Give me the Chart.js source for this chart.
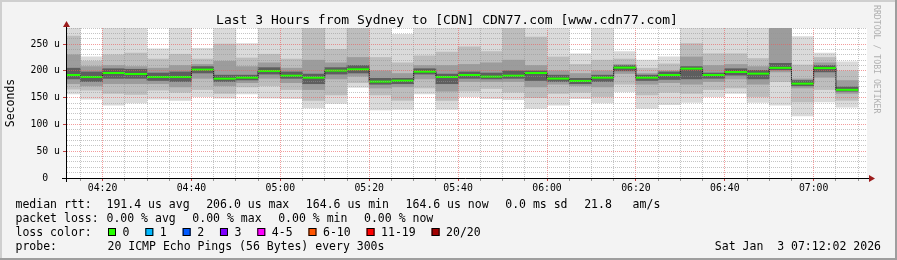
<!DOCTYPE html>
<html>
<head>
<meta charset="utf-8">
<title>Smokeping CDN77</title>
<script src="https://cdn.jsdelivr.net/npm/chart.js@4.4.1/dist/chart.umd.min.js"></script>
<style>
  html, body { margin: 0; padding: 0; background: #f3f3f3; }
  canvas { display: block; }
</style>
</head>
<body>
<canvas id="grafico1" width="897" height="260"></canvas>
<script>
// fim de cada intervalo de 5 min (carimbo do RRD)
const tempos = ['04:15', '04:20', '04:25', '04:30', '04:35', '04:40', '04:45', '04:50', '04:55',
                '05:00', '05:05', '05:10', '05:15', '05:20', '05:25', '05:30', '05:35', '05:40',
                '05:45', '05:50', '05:55', '06:00', '06:05', '06:10', '06:15', '06:20', '06:25',
                '06:30', '06:35', '06:40', '06:45', '06:50', '06:55', '07:00', '07:05', '07:10'];

// rtt em microssegundos (fumaca: min .. max)
const rttMin = [157, 147, 136, 140, 147, 145, 152, 149, 157, 149, 148, 131, 139, 169, 127, 128, 157, 128,
                152, 148, 146, 130, 136, 148, 140, 161, 130, 137, 141, 152, 158, 141, 136, 116, 142, 132];
const rttP10 = [166, 164, 158, 156, 164, 160, 165, 158, 170, 172, 165, 145, 155, 178, 155, 145, 168, 145,
                162, 167, 160, 150, 158, 160, 152, 175, 155, 160, 158, 165, 168, 152, 180, 142, 165, 145];
const rttP25 = [176, 172, 176, 176, 176, 170, 186, 172, 178, 186, 178, 165, 185, 190, 168, 170, 185, 162,
                180, 180, 180, 170, 175, 172, 170, 195, 175, 178, 175, 180, 185, 175, 198, 168, 188, 158];
const rttP40 = [185, 180, 186, 186, 182, 180, 196, 180, 183, 194, 186, 176, 194, 196, 175, 176, 194, 176,
                186, 185, 186, 182, 180, 176, 180, 200, 182, 184, 185, 186, 192, 185, 202, 172, 198, 162];
const rttMediana = [192.3, 188.6, 196.0, 194.2, 188.6, 188.6, 202.3, 185.4, 187.3, 199.8, 191.0, 187.3,
                    200.4, 202.9, 179.9, 181.7, 198.5, 188.6, 192.3, 189.2, 191.0, 196.0, 185.5, 181.1,
                    187.3, 206.0, 187.3, 192.3, 204.1, 192.3, 197.9, 194.8, 205.6, 176.1, 205.2, 164.6];
const rttP60 = [205, 198, 204, 203, 196, 198, 208, 192, 192, 206, 198, 194, 206, 210, 186, 186, 204, 194,
                198, 196, 200, 200, 192, 186, 192, 210, 192, 198, 208, 196, 204, 201, 214, 182, 210, 170];
const rttP75 = [230, 208, 210, 208, 205, 210, 212, 218, 208, 215, 205, 220, 215, 225, 200, 195, 210, 210,
                212, 215, 220, 210, 200, 195, 200, 212, 195, 200, 226, 210, 212, 208, 285, 185, 215, 182];
const rttP90 = [265, 218, 230, 233, 222, 231, 222, 250, 224, 231, 222, 285, 240, 290, 225, 215, 228, 235,
                245, 236, 290, 263, 226, 212, 220, 222, 205, 213, 251, 232, 232, 223, 290, 211, 225, 200];
const rttMax = [290, 226, 290, 290, 241, 290, 242, 290, 251, 290, 290, 290, 290, 300, 290, 268, 290, 290,
                290, 290, 300, 290, 290, 232, 290, 236, 220, 226, 290, 290, 290, 290, 300, 264, 233, 217];

const rotulosX = ['04:20', '04:40', '05:00', '05:20', '05:40', '06:00', '06:20', '06:40', '07:00'];
const rotulosY = ['0  ', '50 u', '100 u', '150 u', '200 u', '250 u'];
const inicioEixo = '04:12';
const fimEixo = '07:12';

const titulo = 'Last 3 Hours from Sydney to [CDN] CDN77.com [www.cdn77.com]';
const linhaMediana = ['191.4 us avg', '206.0 us max', '164.6 us min', '164.6 us now', '0.0 ms sd', '21.8   am/s'];
const linhaPerda = ['0.00 % avg', '0.00 % max', '0.00 % min', '0.00 % now'];
const nomesPerda = ['0', '1', '2', '3', '4-5', '6-10', '11-19', '20/20'];
const coresPerda = ['#26ff00', '#00b8ff', '#0059ff', '#7e00ff', '#ff00ff', '#ff5500', '#ff0000', '#a10000'];
const sonda = '20 ICMP Echo Pings (56 Bytes) every 300s';
const dataHora = 'Sat Jan  3 07:12:02 2026';

function minutos(hhmm) {
    const p = hhmm.split(':');
    return Number(p[0]) * 60 + Number(p[1]);
}

const centros = tempos.map(t => minutos(t) - 2.5);
const MONO = '"DejaVu Sans Mono", monospace';

function faixa(lo, hi, cor, ordem) {
    return {
        type: 'bar',
        data: centros.map((x, i) => ({ x: x, y: [lo[i], hi[i]] })),
        backgroundColor: cor,
        borderWidth: 0,
        barPercentage: 1,
        categoryPercentage: 1,
        grouped: false,
        clip: 0,
        order: ordem
    };
}

const moldura = {
    id: 'moldura',
    beforeDraw(chart) {
        const c = chart.ctx, a = chart.chartArea, W = chart.width, H = chart.height;
        c.save();
        c.fillStyle = '#f3f3f3';
        c.fillRect(0, 0, W, H);
        c.fillStyle = '#cfcfcf';
        c.fillRect(0, 0, W, 2);
        c.fillRect(0, 0, 2, H);
        c.fillStyle = '#9e9e9e';
        c.fillRect(0, H - 2, W, 2);
        c.fillRect(W - 2, 0, 2, H);
        c.fillStyle = '#ffffff';
        c.fillRect(a.left, a.top, a.right - a.left, a.bottom - a.top);
        c.restore();
    },
    afterDraw(chart) {
        const c = chart.ctx, a = chart.chartArea;
        c.save();
        // eixos
        c.strokeStyle = '#000';
        c.lineWidth = 1;
        c.beginPath();
        c.moveTo(62, a.bottom + 0.5);
        c.lineTo(a.right + 2, a.bottom + 0.5);
        c.moveTo(a.left - 0.5, a.bottom + 4);
        c.lineTo(a.left - 0.5, a.top - 1);
        c.stroke();
        c.fillStyle = '#9c1c1c';
        c.beginPath();
        c.moveTo(a.left - 4, a.top - 1);
        c.lineTo(a.left + 3, a.top - 1);
        c.lineTo(a.left - 0.5, a.top - 7);
        c.closePath();
        c.fill();
        c.beginPath();
        c.moveTo(a.right + 2, a.bottom - 3);
        c.lineTo(a.right + 2, a.bottom + 4);
        c.lineTo(a.right + 8, a.bottom + 0.5);
        c.closePath();
        c.fill();

        // titulo
        c.fillStyle = '#000';
        c.font = '13px ' + MONO;
        c.textAlign = 'center';
        c.textBaseline = 'alphabetic';
        c.fillText(titulo, 447, 24);

        // rotulo do eixo y
        c.save();
        c.font = '11.5px ' + MONO;
        c.translate(11, 103);
        c.rotate(-Math.PI / 2);
        c.textBaseline = 'middle';
        c.fillText('Seconds', 0, 0);
        c.restore();

        // marca d'agua
        c.save();
        c.font = '8.2px ' + MONO;
        c.fillStyle = '#b0b0b0';
        c.textAlign = 'left';
        c.translate(874, 5);
        c.rotate(Math.PI / 2);
        c.fillText('RRDTOOL / TOBI OETIKER', 0, 0);
        c.restore();

        // legenda
        c.font = '11.5px ' + MONO;
        c.textAlign = 'left';
        const gap = 16.6;
        let x;
        c.fillText('median rtt:', 15.5, 207.5);
        x = 106.5;
        linhaMediana.forEach(t => { c.fillText(t, x, 207.5); x += c.measureText(t).width + gap; });
        c.fillText('packet loss:', 15.5, 221.5);
        x = 106.5;
        linhaPerda.forEach(t => { c.fillText(t, x, 221.5); x += c.measureText(t).width + gap; });
        c.fillText('loss color:', 15.5, 235.5);
        x = 108;
        nomesPerda.forEach((t, i) => {
            c.fillStyle = coresPerda[i];
            c.fillRect(x, 228, 8, 8);
            c.strokeStyle = '#000';
            c.strokeRect(x + 0.5, 228.5, 7, 7);
            c.fillStyle = '#000';
            c.fillText(t, x + 14.5, 235.5);
            x += 15 + c.measureText(t).width + 15.4;
        });
        c.fillText('probe:', 15.5, 249.5);
        c.fillText(sonda, 107.5, 249.5);
        c.textAlign = 'right';
        c.fillText(dataHora, 881, 249.5);
        c.restore();
    }
};

window.onload = function () {
    const ctx = document.getElementById('grafico1');
    const passoPx = s => Math.abs(s.getPixelForValue(5) - s.getPixelForValue(0));

    new Chart(ctx, {
        type: 'bar',
        data: {
            datasets: [
                {
                    type: 'line',
                    data: centros.map((x, i) => ({ x: x, y: rttMediana[i] })),
                    showLine: false,
                    pointStyle: 'line',
                    pointRadius: c => passoPx(c.chart.scales.x) / 2,
                    pointBorderWidth: 2,
                    pointBorderColor: coresPerda[0],
                    pointBackgroundColor: coresPerda[0],
                    clip: 0,
                    order: 0
                },
                {
                    type: 'line',
                    data: centros.map((x, i) => ({ x: x, y: rttMediana[i] })),
                    stepped: 'middle',
                    borderColor: '#222',
                    borderWidth: 1,
                    pointRadius: 0,
                    clip: 0,
                    order: 1
                },
                faixa(rttP40, rttP60, '#5e5e5e', 2),
                faixa(rttP25, rttP75, '#9c9c9c', 3),
                faixa(rttP10, rttP90, '#bdbdbd', 4),
                faixa(rttMin, rttMax, '#dadada', 5)
            ]
        },
        options: {
            responsive: false,
            animation: false,
            events: [],
            layout: { padding: { left: 0, top: 28, right: 30, bottom: 62 }, autoPadding: false },
            plugins: {
                legend: { display: false },
                title: { display: false },
                tooltip: { enabled: false }
            },
            scales: {
                x: {
                    type: 'linear',
                    min: minutos(inicioEixo),
                    max: minutos(fimEixo),
                    offset: false,
                    afterBuildTicks: s => {
                        s.ticks = [];
                        for (let m = Math.ceil(s.min / 5) * 5; m <= s.max; m += 5) s.ticks.push({ value: m });
                    },
                    afterFit: s => { s.height = 20; s.paddingLeft = 0; s.paddingRight = 0; },
                    ticks: {
                        autoSkip: false,
                        maxRotation: 0,
                        minRotation: 0,
                        padding: 2,
                        color: '#000',
                        font: { family: MONO, size: 9.8 },
                        callback: v => rotulosX.find(r => minutos(r) === v) || ''
                    },
                    grid: {
                        offset: false,
                        z: 1,
                        tickLength: 3,
                        color: c => (c.tick.value % 20 === 0 ? 'rgba(235,90,90,0.6)' : 'rgba(150,150,150,0.55)'),
                        tickColor: c => (c.tick.value % 20 === 0 ? '#c04040' : '#999')
                    },
                    border: { display: false, dash: [1, 1] }
                },
                y: {
                    type: 'linear',
                    min: 0,
                    max: 280,
                    afterBuildTicks: s => {
                        s.ticks = [];
                        for (let v = 0; v <= 280; v += 10) s.ticks.push({ value: v });
                    },
                    afterFit: s => { s.width = 67; s.paddingTop = 0; s.paddingBottom = 0; },
                    ticks: {
                        autoSkip: false,
                        padding: 3,
                        color: '#000',
                        font: { family: MONO, size: 9.8 },
                        callback: v => (v % 50 === 0 ? rotulosY[v / 50] : '')
                    },
                    grid: {
                        z: 1,
                        tickLength: 4,
                        color: c => (c.tick.value % 50 === 0 ? 'rgba(235,90,90,0.6)' : 'rgba(150,150,150,0.55)'),
                        tickColor: c => (c.tick.value % 50 === 0 ? '#c04040' : 'rgba(0,0,0,0)')
                    },
                    border: { display: false, dash: [1, 1] }
                }
            }
        },
        plugins: [moldura]
    });
};
</script>
</body>
</html>
